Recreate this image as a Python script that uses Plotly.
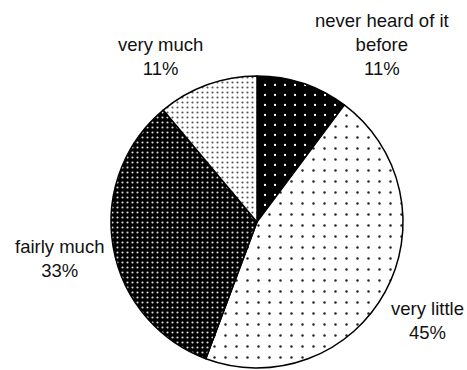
import plotly.graph_objects as go

labels = ["never heard of it before", "very little", "fairly much", "very much"]
values = [10.2, 45.5, 33.2, 11.1]
pct_text = ["11%", "45%", "33%", "11%"]
label_lines = ["never heard of it<br>before", "very little", "fairly much", "very much"]

W, H = 467, 370
cx, cy, r = 257, 222, 146

fig = go.Figure(go.Pie(
    labels=labels,
    values=values,
    sort=False,
    direction="clockwise",
    rotation=0,
    textinfo="none",
    hoverinfo="label+percent",
    showlegend=False,
    marker=dict(
        colors=["black", "white", "black", "white"],
        line=dict(color="black", width=1.5),
        pattern=dict(
            shape=[".", ".", ".", "."],
            fgcolor=["white", "#222", "#dddddd", "#555"],
            bgcolor=["black", "white", "black", "white"],
            size=[10, 11, 5, 5],
            solidity=[0.04, 0.04, 0.15, 0.15],
            fillmode="replace",
        ),
    ),
    domain=dict(x=[(cx - r) / W, (cx + r) / W], y=[(H - cy - r) / H, (H - cy + r) / H]),
))

ann_pos = [(382, 44), (427, 320), (59, 258), (160, 57)]
annotations = []
for (x, y), lab, pct in zip(ann_pos, label_lines, pct_text):
    annotations.append(dict(
        x=x / W, y=1 - y / H, xref="paper", yref="paper",
        text=f"{lab}<br>{pct}", showarrow=False,
        font=dict(family="Liberation Sans, Arial", size=18.5, color="#111"),
        align="center", xanchor="center", yanchor="middle",
    ))

fig.update_layout(
    width=W, height=H,
    margin=dict(l=0, r=0, t=0, b=0),
    paper_bgcolor="white",
    plot_bgcolor="white",
    annotations=annotations,
)

fig.write_html("out.html")
